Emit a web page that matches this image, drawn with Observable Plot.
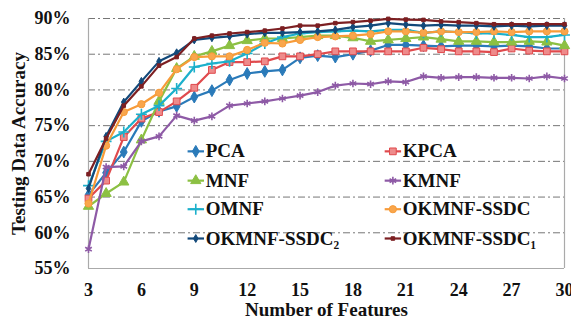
<!DOCTYPE html>
<html>
<head>
<meta charset="utf-8">
<script src="https://cdn.jsdelivr.net/npm/d3@7"></script>
<script src="https://cdn.jsdelivr.net/npm/@observablehq/plot@0.6"></script>
<style>
  body { margin: 0; background: #fff; }
  #chart svg { display: block; }
  #chart svg, #chart svg text { font-family: "Liberation Serif", "Times New Roman", serif !important; font-weight: bold; }
</style>
</head>
<body>
<div id="chart"></div>
<script>
// Number of extracted features
const features = [3, 4, 5, 6, 7, 8, 9, 10, 11, 12, 13, 14, 15, 16, 17, 18, 19, 20, 21, 22, 23, 24, 25, 26, 27, 28, 29, 30];

// Testing data accuracy (%) per method
const pca        = [65.3, 68.4, 71.3, 75.6, 77.0, 77.7, 79.0, 79.9, 81.4, 82.3, 82.6, 82.8, 84.5, 84.8, 84.6, 85.0, 85.5, 86.3, 86.3, 86.2, 86.1, 86.2, 86.2, 86.1, 86.2, 86.1, 85.8, 85.8];
const kpca       = [64.8, 67.3, 73.4, 76.0, 76.9, 78.4, 80.3, 82.8, 83.9, 83.9, 84.0, 84.7, 84.7, 85.0, 85.4, 85.4, 85.4, 85.4, 85.4, 85.9, 85.7, 85.4, 85.4, 85.3, 85.8, 85.5, 85.4, 85.4];
const mnf        = [63.7, 65.5, 67.1, 73.0, 78.4, 83.0, 84.7, 85.4, 86.2, 86.9, 87.2, 87.2, 87.4, 87.6, 87.6, 87.3, 86.8, 87.0, 87.2, 87.4, 87.1, 86.8, 86.8, 86.7, 86.7, 86.8, 86.7, 86.2];
const kmnf       = [57.7, 69.2, 69.3, 72.8, 73.5, 76.4, 75.7, 76.3, 77.8, 78.1, 78.4, 78.8, 79.2, 79.7, 80.6, 80.9, 80.8, 81.2, 81.1, 81.9, 81.7, 81.8, 81.8, 81.7, 81.7, 81.6, 81.9, 81.6];
const omnf       = [66.6, 72.8, 74.1, 76.6, 77.8, 80.2, 83.2, 83.7, 84.0, 85.1, 86.5, 87.4, 87.9, 88.1, 88.2, 88.3, 88.2, 88.4, 88.4, 88.0, 88.2, 88.1, 87.9, 87.9, 87.7, 87.4, 87.4, 87.7];
const okmnfSsdc  = [64.1, 72.2, 76.9, 78.0, 79.6, 82.9, 84.6, 84.7, 84.7, 85.6, 86.6, 86.5, 87.0, 87.4, 87.5, 87.6, 87.8, 88.2, 88.2, 88.0, 88.2, 88.1, 88.1, 88.2, 88.1, 88.2, 88.2, 88.2];
const okmnfSsdc2 = [66.2, 73.5, 78.3, 81.2, 84.0, 85.2, 87.0, 87.3, 87.5, 87.8, 88.0, 88.0, 88.1, 88.2, 88.4, 88.8, 89.0, 89.35, 89.15, 89.0, 89.1, 89.0, 89.0, 88.9, 89.0, 88.9, 89.0, 89.0];
const okmnfSsdc1 = [68.2, 73.2, 77.8, 80.5, 83.4, 84.6, 87.2, 87.6, 87.9, 88.1, 88.3, 88.6, 89.0, 89.0, 89.35, 89.5, 89.7, 89.95, 89.85, 89.8, 89.6, 89.5, 89.35, 89.2, 89.2, 89.2, 89.2, 89.2];

const methods = ["PCA", "KPCA", "MNF", "KMNF", "OMNF", "OKMNF-SSDC", "OKMNF-SSDC\u2082", "OKMNF-SSDC\u2081"];
const series  = [pca, kpca, mnf, kmnf, omnf, okmnfSsdc, okmnfSsdc2, okmnfSsdc1];

// Axis ticks
const xTicks = [3, 6, 9, 12, 15, 18, 21, 24, 27, 30];
const yTicks = [55, 60, 65, 70, 75, 80, 85, 90];
const gridLevels = [60, 65, 70, 75, 80, 85, 90];

const serif = "'Liberation Serif', 'Times New Roman', serif";

// Line and marker styling per method
const styles = [
  {stroke: "#2a7ab9", symbol: "diamond",  r: 3.6, fill: "#2a7ab9"},
  {stroke: "#e04a4d", symbol: "square",   r: 3.8, fill: "#ee8b8b"},
  {stroke: "#8cc043", symbol: "triangle", r: 3.8, fill: "#8cc043"},
  {stroke: "#8e5aa6", symbol: "asterisk", r: 3.6, fill: "none"},
  {stroke: "#1cb0cb", symbol: "plus",     r: 3.6, fill: "none"},
  {stroke: "#f79b39", symbol: "circle",   r: 3.6, fill: "#f9a64c"},
  {stroke: "#12497a", symbol: "diamond",  r: 2.4, fill: "#12497a"},
  {stroke: "#7c1f22", symbol: "square",   r: 2.0, fill: "#7c1f22"}
];

const rows = methods.flatMap((m, i) => series[i].map((v, j) => ({method: m, f: features[j], v})));

const seriesMarks = methods.flatMap((m, i) => {
  const s = styles[i];
  const d = rows.filter(r => r.method === m);
  return [
    Plot.line(d, {x: "f", y: "v", stroke: s.stroke, strokeWidth: 2.2}),
    Plot.dot(d, {x: "f", y: "v", symbol: s.symbol, r: s.r,
                 fill: s.fill, stroke: s.stroke, strokeWidth: s.fill === "none" ? 1.6 : 1})
  ];
});

// Legend inside the plot area: two columns, four rows (in data units)
const legendCols = [8.62, 19.8];
const legendRows = [71.4, 67.3, 63.3, 59.2];
const legendLen = 0.93;
const legendItems = methods.map((m, i) => ({
  method: m, i,
  x: legendCols[i % 2], y: legendRows[Math.floor(i / 2)]
}));
const legendMarks = legendItems.flatMap(it => {
  const s = styles[it.i];
  return [
    Plot.link([it], {x1: "x", x2: d => d.x + legendLen, y1: "y", y2: "y", stroke: s.stroke, strokeWidth: 2.2}),
    Plot.dot([it], {x: d => d.x + legendLen / 2, y: "y", symbol: s.symbol, r: s.r,
                    fill: s.fill, stroke: s.stroke, strokeWidth: s.fill === "none" ? 1.6 : 1}),
    Plot.text([it], {x: d => d.x + legendLen + 0.1, y: "y", text: "method", textAnchor: "start",
                     fontFamily: serif, fontSize: 19, fontWeight: "bold", fill: "#111"})
  ];
});

const chart = Plot.plot({
  width: 571,
  height: 329,
  marginLeft: 88,
  marginRight: 7,
  marginTop: 18,
  marginBottom: 61,
  style: {fontFamily: serif, fontSize: "18px", fontWeight: "bold", color: "#111", background: "#fff"},
  x: {domain: [3, 30]},
  y: {domain: [55, 90]},
  marks: [
    Plot.ruleY(gridLevels, {stroke: "#666", strokeWidth: 0.9, strokeDasharray: "7,3,2,3"}),
    Plot.ruleY([55], {stroke: "#aaa", strokeWidth: 1.2}),
    Plot.ruleX([3, 30], {stroke: "#aaa", strokeWidth: 1.2}),
    Plot.axisY({ticks: yTicks, tickFormat: d => d + "%", tickSize: 0, tickPadding: 18, label: null,
                fontFamily: serif, fontSize: 18, fontWeight: "bold"}),
    Plot.axisX({ticks: xTicks, tickSize: 0, tickPadding: 15, label: null,
                fontFamily: serif, fontSize: 18, fontWeight: "bold"}),
    ...seriesMarks,
    ...legendMarks,
    Plot.text(["Number of Features"], {frameAnchor: "bottom", dy: 47, fontFamily: serif, fontSize: 19, fontWeight: "bold", fill: "#111"}),
    Plot.text(["Testing Data Accuracy"], {frameAnchor: "left", textAnchor: "middle", dx: -70, rotate: -90,
                                          fontFamily: serif, fontSize: 19, fontWeight: "bold", fill: "#111"})
  ]
});

document.getElementById("chart").append(chart);
</script>
</body>
</html>
